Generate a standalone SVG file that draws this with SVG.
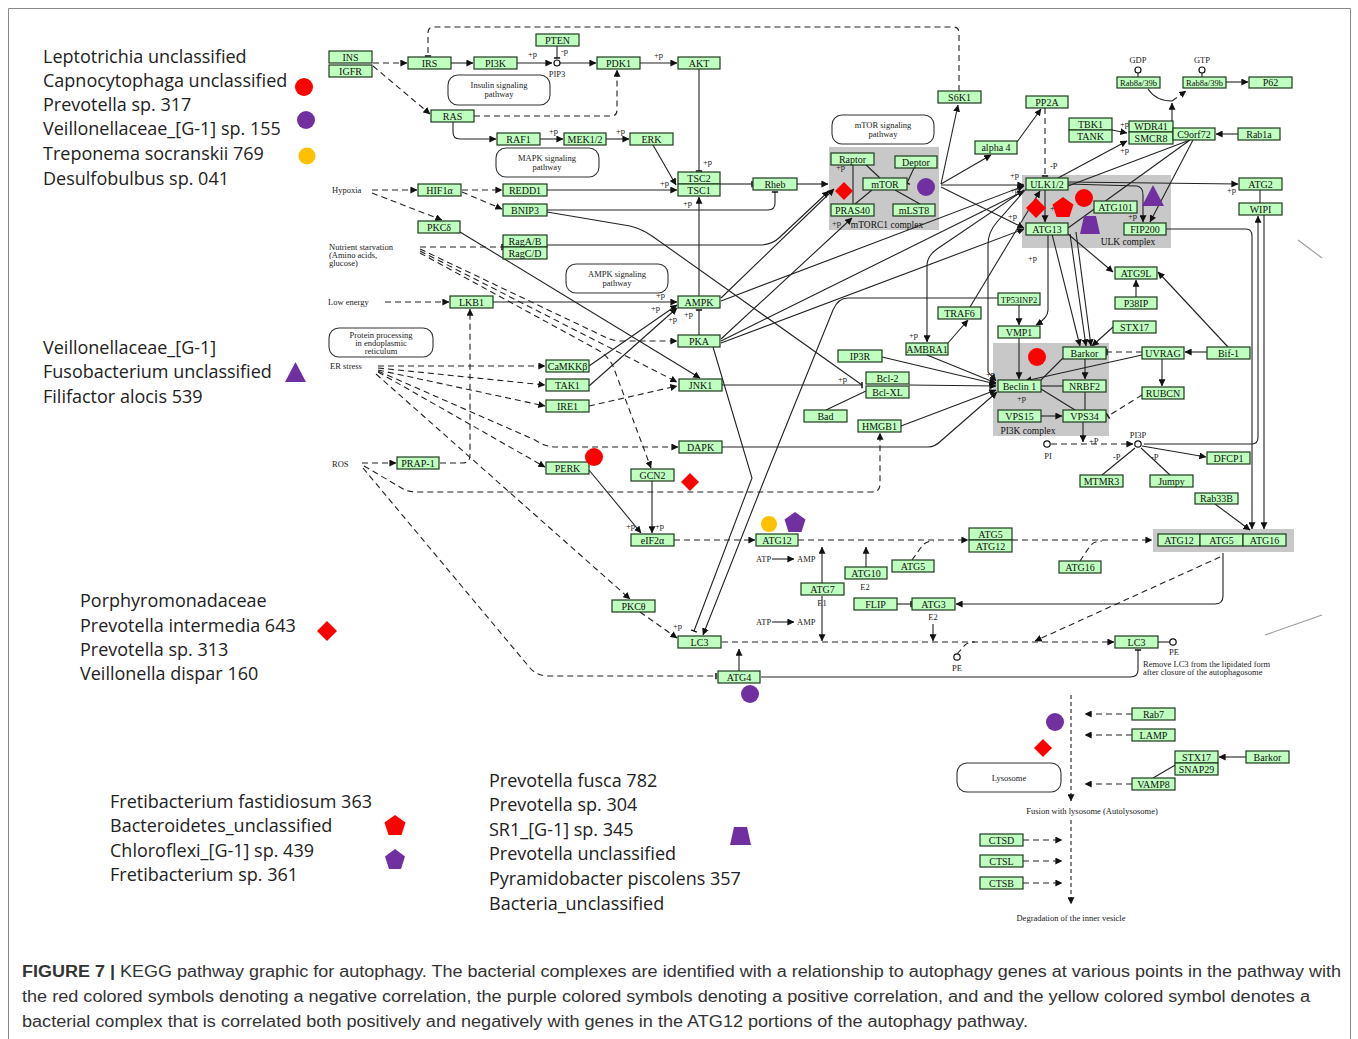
<svg xmlns="http://www.w3.org/2000/svg" width="1358" height="1039" viewBox="0 0 1358 1039">
<style>
.n rect{fill:#bfffbf;stroke:#1d3a1d;stroke-width:1.2}
.n text,.lb{font-family:"Liberation Serif",serif;font-size:10px;text-anchor:middle;fill:#111}
.sm{font-family:"Liberation Serif",serif;font-size:8.5px;fill:#222}
.smc{font-family:"Liberation Serif",serif;font-size:8.5px;fill:#222;text-anchor:middle}
.cx{fill:#c8c8c8;stroke:none}
.pw rect{fill:#fff;stroke:#333;stroke-width:1.1}
.c path{fill:none;stroke:#222;stroke-width:1.1}
.c .d{stroke-dasharray:6 4}
.c .a{marker-end:url(#ar)}
.c .t{marker-end:url(#tb)}
.leg{font-family:"Open Sans","Liberation Sans",sans-serif;font-size:18px;fill:#222}
.cap{font-family:"Liberation Sans",Arial,sans-serif;font-size:16px;fill:#333}
.red{fill:#ff0000}.pur{fill:#7030a0}.yel{fill:#ffc000}
</style>
<defs>
<marker id="ar" viewBox="0 0 10 10" refX="9.5" refY="5" markerWidth="7" markerHeight="7" orient="auto" markerUnits="userSpaceOnUse"><path d="M0,0 L10,5 L0,10 z" fill="#111"/></marker>
<marker id="tb" viewBox="0 0 4 10" refX="2" refY="5" markerWidth="2.5" markerHeight="9" orient="auto" markerUnits="userSpaceOnUse"><path d="M2,0 V10" stroke="#111" stroke-width="2.4"/></marker>
</defs>
<rect x="0" y="0" width="1358" height="1039" fill="#fff"/>
<path d="M8.5,1039 V8.5 H1350.5 V1039" fill="none" stroke="#888" stroke-width="1"/>

<!-- legend -->
<g id="legend">
<text class="leg" x="43" y="63">Leptotrichia unclassified</text>
<text class="leg" x="43" y="87">Capnocytophaga unclassified</text>
<text class="leg" x="43" y="111">Prevotella sp. 317</text>
<text class="leg" x="43" y="135">Veillonellaceae_[G-1] sp. 155</text>
<text class="leg" x="43" y="160">Treponema socranskii 769</text>
<text class="leg" x="43" y="185">Desulfobulbus sp. 041</text>
<circle class="red" cx="304" cy="87" r="9"/>
<circle class="pur" cx="306" cy="120" r="9"/>
<circle class="yel" cx="307" cy="156" r="8.5"/>
<text class="leg" x="43" y="354">Veillonellaceae_[G-1]</text>
<text class="leg" x="43" y="378">Fusobacterium unclassified</text>
<text class="leg" x="43" y="403">Filifactor alocis 539</text>
<polygon class="pur" points="285,382 306,382 295.5,362"/>
<text class="leg" x="80" y="607">Porphyromonadaceae</text>
<text class="leg" x="80" y="632">Prevotella intermedia 643</text>
<text class="leg" x="80" y="656">Prevotella sp. 313</text>
<text class="leg" x="80" y="680">Veillonella dispar 160</text>
<polygon class="red" points="327,621 337,631 327,641 317,631"/>
<text class="leg" x="110" y="808">Fretibacterium fastidiosum 363</text>
<text class="leg" x="110" y="832">Bacteroidetes_unclassified</text>
<text class="leg" x="110" y="857">Chloroflexi_[G-1] sp. 439</text>
<text class="leg" x="110" y="881">Fretibacterium sp. 361</text>
<polygon class="red" points="395,815 405.5,822.5 401.5,835 388.5,835 384.5,822.5"/>
<polygon class="pur" points="395,849 405,856.5 401,869 389,869 385,856.5"/>
<text class="leg" x="489" y="787">Prevotella fusca 782</text>
<text class="leg" x="489" y="811">Prevotella sp. 304</text>
<text class="leg" x="489" y="836">SR1_[G-1] sp. 345</text>
<text class="leg" x="489" y="860">Prevotella unclassified</text>
<text class="leg" x="489" y="885">Pyramidobacter piscolens 357</text>
<text class="leg" x="489" y="910">Bacteria_unclassified</text>
<polygon class="pur" points="730,845 751,845 747,827 734,827"/>
</g>

<!-- complexes and pathway boxes -->
<g id="complexes">
<rect class="cx" x="829" y="147" width="110" height="83"/>
<rect class="cx" x="1022" y="175" width="149" height="73"/>
<rect class="cx" x="993" y="343" width="116" height="93"/>
<rect class="cx" x="1153" y="529" width="141" height="23"/>
<text class="lb" x="887" y="228" style="font-size:9.5px">mTORC1 complex</text>
<text class="lb" x="1128" y="245" style="font-size:9.5px">ULK complex</text>
<text class="lb" x="1028" y="434" style="font-size:9.5px">PI3K complex</text>
</g>
<g id="pathways" class="pw">
<g id="p-insulin"><rect x="448" y="75" width="102" height="30" rx="10"/><text class="smc" x="499" y="88">Insulin signaling</text><text class="smc" x="499" y="97">pathway</text></g>
<g id="p-mapk"><rect x="496" y="148" width="103" height="29" rx="10"/><text class="smc" x="547" y="161">MAPK signaling</text><text class="smc" x="547" y="170">pathway</text></g>
<g id="p-mtor"><rect x="832" y="115" width="102" height="29" rx="10"/><text class="smc" x="883" y="128">mTOR signaling</text><text class="smc" x="883" y="137">pathway</text></g>
<g id="p-ampk"><rect x="566" y="264" width="102" height="29" rx="10"/><text class="smc" x="617" y="277">AMPK signaling</text><text class="smc" x="617" y="286">pathway</text></g>
<g id="p-er"><rect x="329" y="328" width="104" height="29" rx="10"/><text class="smc" x="381" y="338">Protein processing</text><text class="smc" x="381" y="346">in endoplasmic</text><text class="smc" x="381" y="354">reticulum</text></g>
<g id="p-lys"><rect x="957" y="763" width="104" height="29" rx="10"/><text class="smc" x="1009" y="781">Lysosome</text></g>
</g>

<!-- connectors -->
<g id="connectors" class="c">
<path class="d a" d="M373,63 L407,63"/>
<path class="a" d="M451,63 L473,63"/>
<path class="a" d="M517,63 L552,63"/>
<path class="t" d="M557,46 L557,58"/>
<path class="a" d="M560,63 L596,63"/>
<path class="a" d="M640,63 L677,63"/>
<path class="t" d="M699,69 L699,171"/>
<path class="d a" d="M373,66 L430,114"/>
<path class="d a" d="M474,116 L611,116 Q617,116 617,110 L617,70"/>
<path class="a" d="M453,122 L453,132 Q453,139 460,139 L496,139"/>
<path class="a" d="M540,139 L563,139"/>
<path class="a" d="M606,139 L629,139"/>
<path class="a" d="M653,145 L676,185"/>
<path class="d t" d="M959,91 L959,33 Q959,27 953,27 L434,27 Q428,27 428,33 L428,56"/>
<path class="d a" d="M372,190 L417,190"/>
<path class="d a" d="M372,193 L442,220"/>
<path class="d a" d="M462,190 L502,190"/>
<path class="d a" d="M462,192 L502,209"/>
<path class="a" d="M547,190 L677,190"/>
<path class="t" d="M547,210 L768,210 Q775,210 775,203 L775,192"/>
<path d="M547,212 L630,226 Q642,229 652,236 L862,385"/>
<path class="a" d="M460,232 L700,378"/>
<path class="t" d="M720,184 L752,184"/>
<path class="a" d="M797,184 L828,184"/>
<path class="a" d="M699,296 L699,197"/>
<path class="a" d="M547,245 L760,245 Q772,245 780,237 L829,191"/>
<path class="a" d="M721,298 L834,189"/>
<path class="a" d="M721,301 L1024,186"/>
<path class="a" d="M721,339 L852,218"/>
<path class="a" d="M721,341 L1024,191"/>
<path class="a" d="M721,343 L1024,229"/>
<path class="t" d="M699,335 L699,310"/>
<path class="t" d="M713,347 L752,478 L694,631"/>
<path class="a" d="M998,298 L848,298 Q838,298 833,310 L767,473 L703,635"/>
<path class="d t" d="M420,247 L502,247"/>
<path class="d a" d="M420,249 L605,337 Q612,341 622,341 L677,341"/>
<path class="d a" d="M420,251 L677,382"/>
<path class="d a" d="M420,253 L598,350 Q608,356 613,366 L651,468"/>
<path class="d a" d="M385,302 L449,302"/>
<path class="d a" d="M440,463 L462,463 Q470,463 470,455 L470,309"/>
<path class="a" d="M493,302 L677,302"/>
<path class="a" d="M589,366 L677,305"/>
<path class="a" d="M589,386 L677,308"/>
<path class="d a" d="M378,366 L545,366"/>
<path class="d a" d="M378,368 L545,385"/>
<path class="d a" d="M378,370 L545,406"/>
<path class="d a" d="M378,371 L535,440 Q545,447 556,447 L678,447"/>
<path class="d a" d="M378,372 L545,467"/>
<path class="d a" d="M376,374 L630,599"/>
<path class="d a" d="M589,406 L677,386"/>
<path class="d a" d="M362,463 L396,463"/>
<path class="d a" d="M364,466 L405,490 Q410,492 418,492 L872,492 Q880,492 880,484 L880,433"/>
<path class="d t" d="M363,468 L530,668 Q537,676 548,676 L716,676"/>
<path class="a" d="M589,470 L641,533"/>
<path class="a" d="M652,481 L652,533"/>
<path class="d a" d="M674,540 L755,540"/>
<path class="d a" d="M798,540 L968,540"/>
<path class="d a" d="M1012,540 L1152,540"/>
<path class="a" d="M822,583 L822,547"/>
<path class="a" d="M822,596 L822,641"/>
<path class="a" d="M866,567 L866,547"/>
<path class="d" d="M912,560 L922,546 Q926,541 934,541"/>
<path class="d" d="M1080,561 L1090,546 Q1094,541 1102,541"/>
<path class="t" d="M897,604 L911,604"/>
<path class="a" d="M933,624 L933,641"/>
<path class="d a" d="M722,642 L1114,642"/>
<path class="a" d="M739,671 L739,649"/>
<path class="d a" d="M640,612 L677,638"/>
<path class="d" d="M957,654 L965,645 Q968,642 975,642"/>
<path d="M1158,642 L1170,642"/>
<path class="a" d="M1223,553 L1223,596 Q1223,604 1215,604 L956,604"/>
<path class="d a" d="M1220,557 L1035,641"/>
<path class="t" d="M761,677 L1130,677 Q1138,677 1138,670 L1138,650"/>
<path d="M853,164 L853,204"/>
<path d="M865,164 L880,178"/>
<path d="M895,190 L920,204"/>
<path d="M872,190 L855,204"/>
<path class="t" d="M914,168 L907,183"/>
<path class="a" d="M941,184 L958,105"/>
<path class="a" d="M941,184 L991,155"/>
<path class="a" d="M941,185 L1024,185"/>
<path class="a" d="M941,187 L1024,228"/>
<path class="a" d="M1017,142 L1041,109"/>
<path class="d t" d="M1045,108 L1045,176"/>
<path class="a" d="M1068,182 L1238,184"/>
<path d="M1260,190 L1260,203"/>
<path class="a" d="M1058,178 L1127,141"/>
<path class="a" d="M1112,130 L1127,133"/>
<path d="M1190,140 L1068,186"/>
<path d="M1190,140 L1068,228"/>
<path class="a" d="M1193,140 L1150,222"/>
<path class="a" d="M1172,128 L1172,103"/>
<path d="M1148,89 Q1156,101 1172,101"/>
<path class="d a" d="M1172,101 L1186,91"/>
<path class="a" d="M1238,134 L1216,134"/>
<path class="a" d="M1226,82 L1248,82"/>
<path d="M1138,73 L1138,77 M1202,73 L1202,77"/>
<path class="a" d="M1068,184 L1137,186 Q1143,187 1143,195 L1143,222"/>
<path class="a" d="M1045,190 L1045,222"/>
<path class="a" d="M1068,234 L1113,272"/>
<path class="a" d="M1136,297 L1136,280"/>
<path class="a" d="M1228,347 L1158,272"/>
<path class="a" d="M1207,352 L1185,352"/>
<path class="a" d="M1162,359 L1162,386"/>
<path class="d t" d="M1142,352 L1107,352"/>
<path class="a" d="M1142,355 L1025,381"/>
<path class="d t" d="M1142,395 L1108,416"/>
<path class="a" d="M1113,327 L1092,346"/>
<path class="a" d="M1052,234 L1080,346"/>
<path class="a" d="M1070,234 L1086,346"/>
<path class="a" d="M1076,232 L1091,346"/>
<path class="a" d="M1085,359 L1085,379"/>
<path d="M1063,358 L1041,380"/>
<path d="M1041,386 L1063,386"/>
<path d="M1041,389 L1075,410"/>
<path d="M1085,392 L1085,410"/>
<path class="a" d="M1041,416 L1062,416"/>
<path class="a" d="M1083,422 L1083,442"/>
<path class="d a" d="M1051,444 L1133,444"/>
<path class="a" d="M1142,446 L1206,457"/>
<path d="M1102,475 L1135,448"/>
<path d="M1170,475 L1141,448"/>
<path class="a" d="M1215,504 L1250,530"/>
<path class="a" d="M1166,229 L1246,229 Q1252,229 1252,236 L1252,529"/>
<path class="a" d="M1264,215 L1264,529"/>
<path class="a" d="M1144,444 L1252,444 Q1258,444 1258,437 L1258,216"/>
<path class="a" d="M1019,304 L1019,325"/>
<path class="a" d="M1048,234 L1048,310 Q1048,318 1036,325"/>
<path class="a" d="M1019,337 L1019,379"/>
<path class="a" d="M1024,190 L937,249 Q927,256 927,266 L927,342"/>
<path class="a" d="M948,343 L968,320"/>
<path class="a" d="M970,307 L1040,191"/>
<path class="a" d="M1026,189 L997,222 Q988,232 988,245 L988,372 L996,381"/>
<path class="a" d="M927,355 L996,383"/>
<path class="a" d="M882,357 L996,384"/>
<path class="t" d="M722,385 L862,385"/>
<path class="a" d="M909,385 L996,386"/>
<path d="M826,410 L866,391"/>
<path class="a" d="M901,426 L996,390"/>
<path class="a" d="M722,447 L928,447 Q935,447 942,440 L997,392"/>
<path class="d a" style="stroke-dasharray:4 3" d="M1071,695 L1071,801"/>
<path class="d a" style="stroke-dasharray:4 3" d="M1071,820 L1071,904"/>
<path class="d a" d="M1132,714 L1085,714"/>
<path class="d a" d="M1132,735 L1085,735"/>
<path class="d a" d="M1132,784 L1085,784"/>
<path class="a" d="M1246,757 L1219,757"/>
<path d="M1177,764 L1153,778"/>
<path class="d a" d="M1023,840 L1062,840"/>
<path class="d a" d="M1023,861 L1062,861"/>
<path class="d a" d="M1023,883 L1062,883"/>
<path class="a" d="M772,559 L794,559"/>
<path class="a" d="M772,622 L794,622"/>
<path style="stroke:#999" d="M1298,240 L1322,258"/>
<path style="stroke:#999" d="M1265,635 L1322,615"/>
</g>

<!-- small circles (compounds) -->
<g id="compounds" fill="#fff" stroke="#111" stroke-width="1.2">
<circle cx="557" cy="63" r="3"/>
<circle cx="1138" cy="70" r="3"/>
<circle cx="1202" cy="70" r="3"/>
<circle cx="1047" cy="444" r="3.2"/>
<circle cx="1138" cy="444" r="3.2"/>
<circle cx="957" cy="657" r="3.2"/>
<circle cx="1173" cy="642" r="3.2"/>
</g>

<!-- plain labels -->
<g id="labels">
<text class="sm" x="332" y="193">Hypoxia</text>
<text class="sm" x="329" y="250">Nutrient starvation</text>
<text class="sm" x="329" y="258">(Amino acids,</text>
<text class="sm" x="329" y="266">glucose)</text>
<text class="sm" x="328" y="305">Low energy</text>
<text class="sm" x="330" y="369">ER stress</text>
<text class="sm" x="332" y="467">ROS</text>
<text class="smc" x="557" y="77">PIP3</text>
<text class="smc" x="1138" y="63">GDP</text>
<text class="smc" x="1202" y="63">GTP</text>
<text class="smc" x="1138" y="438">PI3P</text>
<text class="smc" x="1048" y="459">PI</text>
<text class="smc" x="957" y="671">PE</text>
<text class="smc" x="1174" y="655">PE</text>
<text class="smc" x="822" y="606">E1</text>
<text class="smc" x="865" y="590">E2</text>
<text class="smc" x="933" y="620">E2</text>
<text class="sm" x="756" y="562">ATP</text><text class="sm" x="797" y="562">AMP</text>
<text class="sm" x="756" y="625">ATP</text><text class="sm" x="797" y="625">AMP</text>
<text class="sm" x="1143" y="667">Remove LC3 from the lipidated form</text>
<text class="sm" x="1143" y="675">after closure of the autophagosome</text>
<text class="smc" x="1092" y="814">Fusion with lysosome (Autolysosome)</text>
<text class="smc" x="1071" y="921">Degradation of the inner vesicle</text>
<text class="sm" x="528" y="57">+p</text>
<text class="sm" x="561" y="54">-p</text>
<text class="sm" x="654" y="58">+p</text>
<text class="sm" x="703" y="165">+p</text>
<text class="sm" x="549" y="134">+p</text>
<text class="sm" x="616" y="134">+p</text>
<text class="sm" x="660" y="186">+p</text>
<text class="sm" x="683" y="206">+p</text>
<text class="sm" x="656" y="298">+p</text>
<text class="sm" x="651" y="311">+p</text>
<text class="sm" x="668" y="322">+p</text>
<text class="sm" x="684" y="317">+p</text>
<text class="sm" x="626" y="529">+p</text>
<text class="sm" x="655" y="529">+p</text>
<text class="sm" x="673" y="629">+p</text>
<text class="sm" x="836" y="170">+p</text>
<text class="sm" x="832" y="226">+p</text>
<text class="sm" x="1010" y="178">+p</text>
<text class="sm" x="1010" y="193">+p</text>
<text class="sm" x="1008" y="219">+p</text>
<text class="sm" x="1050" y="211">+p</text>
<text class="sm" x="1128" y="219">+p</text>
<text class="sm" x="1120" y="127">+p</text>
<text class="sm" x="1120" y="153">+p</text>
<text class="sm" x="1227" y="193">+p</text>
<text class="sm" x="1050" y="169">-P</text>
<text class="sm" x="1028" y="261">+p</text>
<text class="sm" x="909" y="338">+p</text>
<text class="sm" x="838" y="382">+p</text>
<text class="sm" x="986" y="377">+p</text>
<text class="sm" x="1017" y="401">+p</text>
<text class="sm" x="1089" y="444">+P</text>
<text class="sm" x="1113" y="460">-P</text>
<text class="sm" x="1151" y="460">-P</text>
</g>

<!-- nodes -->
<g class="n">
<g id="n-PTEN"><rect x="536" y="34" width="43" height="12"/><text x="557.5" y="43.5">PTEN</text></g>
<g id="n-INS"><rect x="329" y="51" width="43" height="12"/><text x="350.5" y="60.5">INS</text></g>
<g id="n-IGFR"><rect x="329" y="65" width="43" height="12"/><text x="350.5" y="74.5">IGFR</text></g>
<g id="n-IRS"><rect x="408" y="57" width="43" height="12"/><text x="429.5" y="66.5">IRS</text></g>
<g id="n-PI3K"><rect x="474" y="57" width="43" height="12"/><text x="495.5" y="66.5">PI3K</text></g>
<g id="n-PDK1"><rect x="597" y="57" width="43" height="12"/><text x="618.5" y="66.5">PDK1</text></g>
<g id="n-AKT"><rect x="678" y="57" width="42" height="12"/><text x="699" y="66.5">AKT</text></g>
<g id="n-RAS"><rect x="431" y="110" width="43" height="12"/><text x="452.5" y="119.5">RAS</text></g>
<g id="n-RAF1"><rect x="497" y="133" width="43" height="12"/><text x="518.5" y="142.5">RAF1</text></g>
<g id="n-MEK"><rect x="564" y="133" width="42" height="12"/><text x="585" y="142.5">MEK1/2</text></g>
<g id="n-ERK"><rect x="630" y="133" width="43" height="12"/><text x="651.5" y="142.5">ERK</text></g>
<g id="n-TSC"><rect x="678" y="172" width="42" height="12"/><text x="699" y="181.5">TSC2</text><rect x="678" y="184" width="42" height="12"/><text x="699" y="193.5">TSC1</text></g>
<g id="n-HIF1a"><rect x="418" y="184" width="43" height="12"/><text x="439.5" y="193.5">HIF1α</text></g>
<g id="n-REDD1"><rect x="503" y="184" width="44" height="12"/><text x="525" y="193.5">REDD1</text></g>
<g id="n-BNIP3"><rect x="503" y="204" width="44" height="12"/><text x="525" y="213.5">BNIP3</text></g>
<g id="n-PKCd"><rect x="418" y="221" width="42" height="12"/><text x="439" y="230.5">PKCδ</text></g>
<g id="n-Rag"><rect x="503" y="235" width="44" height="12"/><text x="525" y="244.5">RagA/B</text><rect x="503" y="247" width="44" height="12"/><text x="525" y="256.5">RagC/D</text></g>
<g id="n-LKB1"><rect x="450" y="296" width="43" height="12"/><text x="471.5" y="305.5">LKB1</text></g>
<g id="n-AMPK"><rect x="678" y="296" width="42" height="12"/><text x="699" y="305.5">AMPK</text></g>
<g id="n-PKA"><rect x="678" y="335" width="42" height="12"/><text x="699" y="344.5">PKA</text></g>
<g id="n-CaMKKb"><rect x="546" y="360" width="43" height="12"/><text x="567.5" y="369.5">CaMKKβ</text></g>
<g id="n-TAK1"><rect x="546" y="379" width="43" height="12"/><text x="567.5" y="388.5">TAK1</text></g>
<g id="n-JNK1"><rect x="679" y="379" width="43" height="12"/><text x="700.5" y="388.5">JNK1</text></g>
<g id="n-IRE1"><rect x="546" y="400" width="43" height="12"/><text x="567.5" y="409.5">IRE1</text></g>
<g id="n-DAPK"><rect x="679" y="441" width="43" height="12"/><text x="700.5" y="450.5">DAPK</text></g>
<g id="n-PRAP1"><rect x="397" y="457" width="42" height="12"/><text x="418" y="466.5">PRAP-1</text></g>
<g id="n-PERK"><rect x="546" y="462" width="43" height="12"/><text x="567.5" y="471.5">PERK</text></g>
<g id="n-GCN2"><rect x="631" y="469" width="43" height="12"/><text x="652.5" y="478.5">GCN2</text></g>
<g id="n-eIF2a"><rect x="631" y="534" width="43" height="12"/><text x="652.5" y="543.5">eIF2α</text></g>
<g id="n-ATG12"><rect x="756" y="534" width="42" height="12"/><text x="777" y="543.5">ATG12</text></g>
<g id="n-PKCt"><rect x="612" y="600" width="43" height="12"/><text x="633.5" y="609.5">PKCθ</text></g>
<g id="n-LC3"><rect x="678" y="636" width="43" height="12"/><text x="699.5" y="645.5">LC3</text></g>
<g id="n-ATG4"><rect x="718" y="671" width="42" height="12"/><text x="739" y="680.5">ATG4</text></g>
<g id="n-ATG7"><rect x="801" y="583" width="43" height="12"/><text x="822.5" y="592.5">ATG7</text></g>
<g id="n-ATG10"><rect x="845" y="567" width="42" height="12"/><text x="866" y="576.5">ATG10</text></g>
<g id="n-ATG5"><rect x="892" y="560" width="42" height="12"/><text x="913" y="569.5">ATG5</text></g>
<g id="n-FLIP"><rect x="854" y="598" width="43" height="12"/><text x="875.5" y="607.5">FLIP</text></g>
<g id="n-ATG3"><rect x="912" y="598" width="43" height="12"/><text x="933.5" y="607.5">ATG3</text></g>
<g id="n-ATG5-12"><rect x="969" y="528" width="43" height="12"/><text x="990.5" y="537.5">ATG5</text><rect x="969" y="540" width="43" height="12"/><text x="990.5" y="549.5">ATG12</text></g>
<g id="n-ATG16"><rect x="1059" y="561" width="42" height="12"/><text x="1080" y="570.5">ATG16</text></g>
<g id="n-ATG12-5-16"><rect x="1158" y="534" width="42" height="12"/><text x="1179" y="543.5">ATG12</text><rect x="1200" y="534" width="43" height="12"/><text x="1221.5" y="543.5">ATG5</text><rect x="1243" y="534" width="43" height="12"/><text x="1264.5" y="543.5">ATG16</text></g>
<g id="n-LC3b"><rect x="1115" y="636" width="43" height="12"/><text x="1136.5" y="645.5">LC3</text></g>
<g id="n-Rheb"><rect x="753" y="178" width="44" height="12"/><text x="775" y="187.5">Rheb</text></g>
<g id="n-Raptor"><rect x="831" y="153" width="43" height="12"/><text x="852.5" y="162.5">Raptor</text></g>
<g id="n-Deptor"><rect x="895" y="156" width="42" height="12"/><text x="916" y="165.5">Deptor</text></g>
<g id="n-mTOR"><rect x="863" y="178" width="44" height="12"/><text x="885" y="187.5">mTOR</text></g>
<g id="n-PRAS40"><rect x="831" y="204" width="43" height="12"/><text x="852.5" y="213.5">PRAS40</text></g>
<g id="n-mLST8"><rect x="893" y="204" width="42" height="12"/><text x="914" y="213.5">mLST8</text></g>
<g id="n-S6K1"><rect x="938" y="91" width="43" height="12"/><text x="959.5" y="100.5">S6K1</text></g>
<g id="n-alpha4"><rect x="975" y="141" width="42" height="13"/><text x="996" y="151">alpha 4</text></g>
<g id="n-PP2A"><rect x="1026" y="96" width="42" height="12"/><text x="1047" y="105.5">PP2A</text></g>
<g id="n-TBK1"><rect x="1069" y="118" width="43" height="12"/><text x="1090.5" y="127.5">TBK1</text><rect x="1069" y="130" width="43" height="12"/><text x="1090.5" y="139.5">TANK</text></g>
<g id="n-WDR41"><rect x="1129" y="121" width="44" height="11"/><text x="1151" y="130">WDR41</text><rect x="1129" y="132" width="44" height="12"/><text x="1151" y="141.5">SMCR8</text></g>
<g id="n-C9orf72"><rect x="1173" y="128" width="42" height="12"/><text x="1194" y="137.5">C9orf72</text></g>
<g id="n-Rab1a"><rect x="1238" y="128" width="42" height="12"/><text x="1259" y="137.5">Rab1a</text></g>
<g id="n-Rab8a-gdp"><rect x="1117" y="77" width="43" height="11"/><text x="1138.5" y="86" style="font-size:8.5px">Rab8a/39b</text></g>
<g id="n-Rab8a-gtp"><rect x="1183" y="77" width="43" height="11"/><text x="1204.5" y="86" style="font-size:8.5px">Rab8a/39b</text></g>
<g id="n-P62"><rect x="1249" y="77" width="43" height="11"/><text x="1270.5" y="86">P62</text></g>
<g id="n-ULK12"><rect x="1026" y="178" width="42" height="12"/><text x="1047" y="187.5">ULK1/2</text></g>
<g id="n-ATG101"><rect x="1094" y="201" width="43" height="12"/><text x="1115.5" y="210.5">ATG101</text></g>
<g id="n-ATG13"><rect x="1026" y="223" width="42" height="12"/><text x="1047" y="232.5">ATG13</text></g>
<g id="n-FIP200"><rect x="1124" y="223" width="42" height="12"/><text x="1145" y="232.5">FIP200</text></g>
<g id="n-ATG2"><rect x="1239" y="178" width="43" height="12"/><text x="1260.5" y="187.5">ATG2</text></g>
<g id="n-WIPI"><rect x="1239" y="203" width="43" height="12"/><text x="1260.5" y="212.5">WIPI</text></g>
<g id="n-ATG9L"><rect x="1115" y="267" width="42" height="12"/><text x="1136" y="276.5">ATG9L</text></g>
<g id="n-P38IP"><rect x="1115" y="297" width="42" height="12"/><text x="1136" y="306.5">P38IP</text></g>
<g id="n-STX17"><rect x="1113" y="321" width="43" height="12"/><text x="1134.5" y="330.5">STX17</text></g>
<g id="n-TP53INP2"><rect x="998" y="293" width="42" height="12"/><text x="1019" y="302.5" style="font-size:8.5px">TP53INP2</text></g>
<g id="n-TRAF6"><rect x="938" y="307" width="43" height="12"/><text x="959.5" y="316.5">TRAF6</text></g>
<g id="n-VMP1"><rect x="998" y="326" width="42" height="12"/><text x="1019" y="335.5">VMP1</text></g>
<g id="n-AMBRA1"><rect x="906" y="343" width="42" height="12"/><text x="927" y="352.5">AMBRA1</text></g>
<g id="n-Barkor"><rect x="1063" y="347" width="43" height="12"/><text x="1084.5" y="356.5">Barkor</text></g>
<g id="n-UVRAG"><rect x="1142" y="347" width="42" height="12"/><text x="1163" y="356.5">UVRAG</text></g>
<g id="n-Bif1"><rect x="1207" y="347" width="43" height="12"/><text x="1228.5" y="356.5">Bif-1</text></g>
<g id="n-IP3R"><rect x="838" y="350" width="44" height="12"/><text x="860" y="359.5">IP3R</text></g>
<g id="n-Bcl2"><rect x="866" y="372" width="43" height="12"/><text x="887.5" y="381.5">Bcl-2</text><rect x="866" y="386" width="43" height="12"/><text x="887.5" y="395.5">Bcl-XL</text></g>
<g id="n-Beclin1"><rect x="998" y="380" width="43" height="12"/><text x="1019.5" y="389.5">Beclin 1</text></g>
<g id="n-NRBF2"><rect x="1063" y="380" width="43" height="12"/><text x="1084.5" y="389.5">NRBF2</text></g>
<g id="n-RUBCN"><rect x="1142" y="387" width="42" height="12"/><text x="1163" y="396.5">RUBCN</text></g>
<g id="n-Bad"><rect x="804" y="410" width="43" height="12"/><text x="825.5" y="419.5">Bad</text></g>
<g id="n-VPS15"><rect x="998" y="410" width="43" height="12"/><text x="1019.5" y="419.5">VPS15</text></g>
<g id="n-VPS34"><rect x="1063" y="410" width="43" height="12"/><text x="1084.5" y="419.5">VPS34</text></g>
<g id="n-HMGB1"><rect x="858" y="420" width="43" height="12"/><text x="879.5" y="429.5">HMGB1</text></g>
<g id="n-DFCP1"><rect x="1207" y="452" width="43" height="12"/><text x="1228.5" y="461.5">DFCP1</text></g>
<g id="n-MTMR3"><rect x="1080" y="475" width="43" height="12"/><text x="1101.5" y="484.5">MTMR3</text></g>
<g id="n-Jumpy"><rect x="1150" y="475" width="43" height="12"/><text x="1171.5" y="484.5">Jumpy</text></g>
<g id="n-Rab33B"><rect x="1195" y="493" width="43" height="11"/><text x="1216.5" y="502">Rab33B</text></g>
<g id="n-Rab7"><rect x="1132" y="708" width="43" height="12"/><text x="1153.5" y="717.5">Rab7</text></g>
<g id="n-LAMP"><rect x="1132" y="729" width="43" height="12"/><text x="1153.5" y="738.5">LAMP</text></g>
<g id="n-STX17b"><rect x="1175" y="751" width="43" height="12"/><text x="1196.5" y="760.5">STX17</text><rect x="1175" y="763" width="43" height="12"/><text x="1196.5" y="772.5">SNAP29</text></g>
<g id="n-Barkorb"><rect x="1246" y="751" width="43" height="12"/><text x="1267.5" y="760.5">Barkor</text></g>
<g id="n-VAMP8"><rect x="1132" y="778" width="43" height="12"/><text x="1153.5" y="787.5">VAMP8</text></g>
<g id="n-CTSD"><rect x="980" y="834" width="43" height="12"/><text x="1001.5" y="843.5">CTSD</text></g>
<g id="n-CTSL"><rect x="980" y="855" width="43" height="12"/><text x="1001.5" y="864.5">CTSL</text></g>
<g id="n-CTSB"><rect x="980" y="877" width="43" height="12"/><text x="1001.5" y="886.5">CTSB</text></g>
</g>

<!-- bacterial markers on pathway -->
<g id="markers">
<polygon class="red" points="844,182 853,191 844,200 835,191"/>
<circle class="pur" cx="926" cy="187" r="9"/>
<polygon class="red" points="1036,198 1046,208 1036,218 1026,208"/>
<polygon class="red" points="1063,197 1073.5,204.5 1069.5,217 1056.5,217 1052.5,204.5"/>
<circle class="red" cx="1084" cy="198" r="9"/>
<polygon class="pur" points="1080,234 1100,234 1096,216 1084,216"/>
<polygon class="pur" points="1142,206 1164,206 1153,185"/>
<circle class="red" cx="1037" cy="357" r="9"/>
<circle class="red" cx="594" cy="457" r="9"/>
<polygon class="red" points="690,473 699,482 690,491 681,482"/>
<circle class="yel" cx="769" cy="524" r="8"/>
<polygon class="pur" points="795,512 805.5,519.5 801.5,532 788.5,532 784.5,519.5"/>
<circle class="pur" cx="750" cy="694" r="9"/>
<circle class="pur" cx="1055" cy="722" r="9"/>
<polygon class="red" points="1043,739 1052,748 1043,757 1034,748"/>
</g>

<!-- caption -->
<g id="caption">
<text class="cap" x="22" y="977" textLength="1319" lengthAdjust="spacingAndGlyphs"><tspan font-weight="bold">FIGURE 7 |</tspan> KEGG pathway graphic for autophagy. The bacterial complexes are identified with a relationship to autophagy genes at various points in the pathway with</text>
<text class="cap" x="22" y="1002" textLength="1288" lengthAdjust="spacingAndGlyphs">the red colored symbols denoting a negative correlation, the purple colored symbols denoting a positive correlation, and and the yellow colored symbol denotes a</text>
<text class="cap" x="22" y="1027" textLength="1006" lengthAdjust="spacingAndGlyphs">bacterial complex that is correlated both positively and negatively with genes in the ATG12 portions of the autophagy pathway.</text>
</g>
</svg>
